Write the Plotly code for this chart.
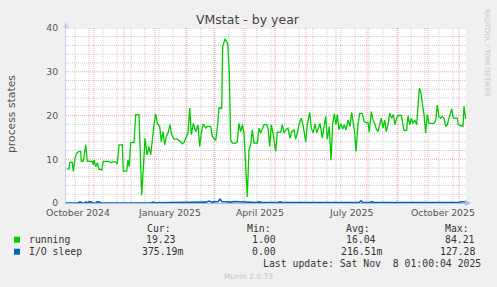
import pandas as pd
import plotly.graph_objects as go

# ---------------- data ----------------
START = pd.Timestamp("2024-10-04 01:00")
END = pd.Timestamp("2025-11-08 01:00")

# days since START and "running" process counts
running_day = [0.7, 3, 3.7, 6.3, 7.3, 9, 10.7, 13, 14.7, 15.3, 17.3, 19.7, 21.3, 26.3, 27.3, 28,
               29.7, 31.3, 33, 34.7, 35.7, 37.3, 43, 44.7, 46.3, 49.7, 51.3, 53, 56.3, 57.3, 60.7,
               62, 63.3, 64.7, 68, 69.7, 73, 74, 75.7, 77.3, 79, 81, 83, 84.7, 86.3, 88, 89.7,
               91.3, 93.7, 95.3, 97, 98.7, 100.3, 102, 104, 105.7, 108, 111.3, 113, 114.7, 116.3,
               118, 119.7, 122, 123.7, 125.3, 127.3, 129.7, 132, 133.7, 135.3, 137.3, 139.7, 141.3,
               144.7, 146.3, 148, 149.7, 151.3, 153, 155.7, 156.7, 159, 160.7, 161.7, 163.3, 164.7,
               166.3, 169.7, 171.3, 173, 174.7, 176.3, 178, 179.7, 181.3, 183, 184.7, 186.3, 188,
               191.3, 193, 194.7, 196.3,
               198, 200.7, 202, 203.7, 205.3, 207, 209.7, 211.3, 214.7, 216.3, 218, 219.7, 222, 224,
               225.7, 228, 229.7, 231.3, 233.3, 235.3, 237.3, 239.7, 241.3, 243.7, 245.3, 247.3, 249,
               250.7, 252, 254, 256.3, 258, 259.7, 261.3, 263.3, 265, 266.7, 268.3, 270, 271.3, 273,
               274.7, 276.7, 278.3, 280, 282, 284, 285.7, 287.3, 288.7, 290, 292, 293.7, 296.3, 298,
               299.7, 302, 303.3, 305.3, 307, 308.7, 310.3, 312, 313.7, 315.3, 317, 318.7, 320.3,
               322, 323.7, 325.7, 327.3, 329, 330.7, 332.3, 335.3, 336.7, 338, 340.7, 342, 343.7,
               345.3, 347, 348.7, 350.7, 352.3, 353.3, 354.7, 355.7, 357, 358, 359.7, 361.3, 363,
               368, 369.7, 371.3, 373, 374.7, 376.3, 378, 379.7, 381.3, 383, 385.7, 387.3, 391.3,
               392.3, 397, 398, 399.7]
running_val = [7.8, 7.8, 9.3, 9.3, 7.2, 10.2, 11.4, 11.8, 11.8, 9.5, 9.6, 13.3, 9.5, 9.5, 8.7, 9.8,
               8.3, 9.2, 7.7, 7.7, 7.4, 9.5, 9.5, 9.2, 9.4, 9.4, 8.9, 13.3, 13.3, 7.3, 7.3,
               9.8, 8.3, 13.8, 13.8, 20.2, 20.2, 13.7, 1.8, 7.9, 14.8, 11.0, 12.9, 11.0, 15.2, 17.9, 20.4,
               18.2, 17.5, 14.0, 16.3, 13.3, 15.2, 16.0, 17.9, 15.6, 14.6, 14.6, 14.3, 14.0, 13.5,
               13.8, 14.8, 16.0, 21.7, 15.6, 18.2, 16.3, 17.9, 12.9, 16.0, 18.1, 17.1, 17.5,
               17.5, 15.2, 14.8, 14.3, 17.1, 21.8, 21.6, 35.8, 37.5, 37.0, 36.5, 29.7, 14.4,
               13.7, 13.7, 14.0, 18.2, 16.3, 17.9, 16.0, 8.7, 1.4, 12.1, 13.3, 16.7, 13.7,
               13.7, 17.1, 16.0, 17.1,
               17.9, 17.9, 17.1, 12.9, 17.9, 16.0, 11.8, 16.2, 16.2, 17.9, 16.0, 16.7, 17.1, 14.8,
               16.3, 16.7, 14.6, 16.0, 18.2, 19.4, 17.5, 14.0, 17.9, 20.7, 17.1, 16.0, 18.1,
               16.0, 17.1, 18.2, 14.8, 17.5, 19.8, 14.6, 17.5, 9.8, 18.2, 20.4, 17.9, 20.2, 16.7,
               18.1, 16.9, 17.9, 16.7, 19.0, 17.5, 20.7, 17.9, 16.0, 11.8, 17.9, 20.5, 20.5, 18.6,
               18.4, 18.4, 16.2, 20.9, 19.0, 18.2, 16.9, 16.3, 18.1, 19.4, 17.1, 19.0, 16.3,
               17.9, 20.5, 19.4, 20.2, 17.9, 19.4, 20.0, 20.0, 18.2, 16.6, 16.6, 19.9, 17.9,
               19.4, 18.2, 19.0, 17.9, 23.6, 26.2, 25.5, 23.9, 20.9, 20.2, 16.0, 20.2, 18.2,
               18.2, 18.9, 22.4, 19.8, 19.4, 19.8, 19.4, 17.5, 17.9, 19.4, 21.5, 19.4, 19.4,
               17.9, 17.5, 22.1, 19.2]

# days since START and "I/O sleep" counts
io_day = [0, 12, 14, 16, 19, 20, 22, 23, 25, 27, 30, 31, 33, 35, 85, 87, 89, 99, 101, 103, 107,
          109, 111, 114, 117, 120, 123, 126, 130, 133, 137, 140, 143, 146, 149, 152, 154, 156,
          160, 165, 168, 172, 178, 181, 190, 193, 196, 212, 214, 217, 227, 229, 232, 234, 236,
          249, 251, 255, 257, 262, 264, 266, 293, 295, 297, 304, 306, 308, 339, 341, 343, 380,
          382, 384, 386, 388, 390, 393, 395, 397, 400]
io_val = [0, 0, 0.25, 0, 0, 0.25, 0, 0.25, 0.25, 0, 0, 0.25, 0.25, 0, 0, 0.2, 0.05, 0.05, 0.2,
          0.1, 0.1, 0.2, 0.1, 0.15, 0.1, 0.2, 0.15, 0.2, 0.1, 0.2, 0.15, 0.2, 0.45, 0.2, 0.3,
          0.3, 0.85, 0.3, 0.3, 0.2, 0.35, 0.3, 0.15, 0.25, 0.1, 0.25, 0.1, 0.1, 0.25, 0.1, 0.1,
          0.25, 0.1, 0.25, 0.1, 0.1, 0.25, 0.1, 0.25, 0.1, 0.25, 0.1, 0.1, 0.5, 0.1, 0.1, 0.3,
          0.1, 0.1, 0.25, 0.1, 0.1, 0.25, 0.1, 0.25, 0.1, 0.25, 0.1, 0.3, 0.3, 0.3]

month_label_dates = ["2024-10-16", "2025-01-16", "2025-04-16", "2025-07-16", "2025-10-16"]
month_labels = ["October 2024", "January 2025", "April 2025", "July 2025", "October 2025"]

series_names = ["running", "I/O sleep"]
series_colors = ["#00CC00", "#0066B3"]
cur_vals = ["19.23", "375.19m"]
min_vals = ["1.00", "0.00"]
avg_vals = ["16.04", "216.51m"]
max_vals = ["84.21", "127.28"]

# ---------------- figure ----------------
W, H = 497, 287
PL, PR, PT, PB = 66, 466, 28, 203
Y_MAX = 40


def fx(px):
    return (px - PL) / (PR - PL)


def fy(py):
    return (PB - py) / (PB - PT)


run_x = START + pd.to_timedelta(running_day, unit="D")
io_x = START + pd.to_timedelta(io_day, unit="D")

fig = go.Figure()
fig.add_trace(go.Scatter(x=run_x, y=running_val, mode="lines",
                         line=dict(color=series_colors[0], width=1.3),
                         showlegend=False, hoverinfo="skip"))
fig.add_trace(go.Scatter(x=io_x, y=io_val, mode="lines",
                         line=dict(color=series_colors[1], width=1.6),
                         showlegend=False, hoverinfo="skip"))

RED_GRID = "rgba(235,80,80,0.5)"
GRAY_GRID = "rgba(150,150,150,0.5)"
DOTS = "1px,1px"
AXIS_BLUE = "#A9B8EE"
TICKFONT = dict(family="DejaVu Sans", size=9.3, color="#555555")

fig.update_layout(
    width=W, height=H,
    margin=dict(l=PL, r=W - PR, t=PT, b=H - PB, pad=0),
    paper_bgcolor="#F0F0F0", plot_bgcolor="#FFFFFF",
    showlegend=False,
    xaxis=dict(
        type="date", range=[START, END], showticklabels=False, ticks="",
        showgrid=False, zeroline=False, showline=True, linecolor=AXIS_BLUE, linewidth=1,
    ),
    yaxis=dict(
        range=[0, Y_MAX], tickmode="linear", tick0=0, dtick=10,
        tickfont=TICKFONT, ticks="", ticklabelstandoff=5,
        showgrid=False, zeroline=False, showline=True, linecolor="#C8D0F4", linewidth=1,
    ),
)

# grid lines (rrdtool style): gray minor grid, red major grid
shapes = []
for d in pd.date_range("2024-10-13", END, freq="14D"):
    shapes.append(dict(type="line", xref="x", yref="paper", x0=d, x1=d, y0=0, y1=1,
                       layer="below", line=dict(color=GRAY_GRID, width=1, dash=DOTS)))
for v in range(2, Y_MAX + 1, 2):
    if v % 10:
        shapes.append(dict(type="line", xref="paper", yref="y", x0=0, x1=1, y0=v, y1=v,
                           layer="below", line=dict(color=GRAY_GRID, width=1, dash=DOTS)))
for d in pd.date_range("2024-11-01", END, freq="MS"):
    shapes.append(dict(type="line", xref="x", yref="paper", x0=d, x1=d, y0=0, y1=1,
                       layer="below", line=dict(color=RED_GRID, width=1, dash=DOTS)))
for v in range(10, Y_MAX + 1, 10):
    shapes.append(dict(type="line", xref="paper", yref="y", x0=0, x1=1, y0=v, y1=v,
                       layer="below", line=dict(color=RED_GRID, width=1, dash=DOTS)))

ann = []
# month labels on the date scale
for d, lab in zip(month_label_dates, month_labels):
    ann.append(dict(text=lab, x=d, y=fy(212), xref="x", yref="paper",
                    xanchor="center", yanchor="middle", showarrow=False, font=TICKFONT))
# title
ann.append(dict(text="VMstat - by year", x=fx(248), y=fy(19), xref="paper", yref="paper",
                xanchor="center", yanchor="middle", showarrow=False,
                font=dict(family="DejaVu Sans", size=12.5, color="#444444")))
# y axis title
ann.append(dict(text="process states", x=fx(11), y=fy(114), xref="paper", yref="paper",
                xanchor="center", yanchor="middle", showarrow=False, textangle=-90,
                font=dict(family="DejaVu Sans", size=10.8, color="#555555")))
# rrdtool watermark
ann.append(dict(text="RRDTOOL / TOBI OETIKER", x=fx(487), y=fy(53), xref="paper", yref="paper",
                xanchor="center", yanchor="middle", showarrow=False, textangle=90,
                font=dict(family="DejaVu Sans", size=6.8, color="#C4C4C4")))
# axis arrows
ann.append(dict(text="", x=fx(471), y=0, xref="paper", yref="paper", showarrow=True,
                ax=-7, ay=0, arrowhead=2, arrowsize=1, arrowwidth=1.2, arrowcolor=AXIS_BLUE))
ann.append(dict(text="", x=0, y=fy(22), xref="paper", yref="paper", showarrow=True,
                ax=0, ay=7, arrowhead=2, arrowsize=1, arrowwidth=1.2, arrowcolor="#C8D0F4"))

MONO = dict(family="DejaVu Sans Mono", size=9.8, color="#333333")
# legend header
for label, right in zip(["Cur:", "Min:", "Avg:", "Max:"], [173, 273, 372, 471]):
    ann.append(dict(text=label, x=fx(right), y=fy(228), xref="paper", yref="paper",
                    xanchor="right", yanchor="middle", showarrow=False, font=MONO))
rows_y = [239.7, 251.7]
for i, name in enumerate(series_names):
    yy = rows_y[i]
    shapes.append(dict(type="rect", xref="paper", yref="paper",
                       x0=fx(14), x1=fx(20), y0=fy(yy + 3), y1=fy(yy - 3),
                       fillcolor=series_colors[i], line=dict(width=0)))
    ann.append(dict(text=name, x=fx(26.5), y=fy(yy), xref="paper", yref="paper",
                    xanchor="left", yanchor="middle", showarrow=False, font=MONO))
    for val, right_plain, right_m in zip([cur_vals[i], min_vals[i], avg_vals[i], max_vals[i]],
                                         [178, 278, 378, 477], [185, 284, 384, 483]):
        right = right_m if val.endswith("m") else right_plain
        ann.append(dict(text=val, x=fx(right), y=fy(yy), xref="paper", yref="paper",
                        xanchor="right", yanchor="middle", showarrow=False, font=MONO))

ann.append(dict(text="Last update: Sat Nov\u00a0\u00a08 01:00:04 2025", x=fx(483), y=fy(263.7),
                xref="paper", yref="paper", xanchor="right", yanchor="middle",
                showarrow=False, font=MONO))
ann.append(dict(text="Munin 2.0.73", x=fx(248), y=fy(276), xref="paper", yref="paper",
                xanchor="center", yanchor="middle", showarrow=False,
                font=dict(family="DejaVu Sans", size=7.5, color="#C4C4C4")))

fig.update_layout(annotations=ann, shapes=shapes)

fig.write_html("out.html")
